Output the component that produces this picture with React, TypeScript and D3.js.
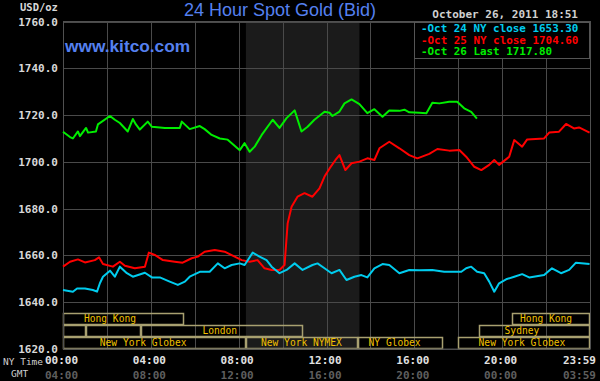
import React, { useEffect, useRef } from "react";
import * as d3 from "d3";

// ---- data (hours of NY time, price USD/oz) ----
const oct24Hours = [0, 0.45, 0.64, 1.0, 1.36, 1.55, 1.68, 1.82, 2.14, 2.36, 2.59, 2.91, 3.18, 3.73, 4.05, 4.41, 4.86, 5.23, 5.55, 5.77, 6.23, 6.68, 7.05, 7.36, 7.68, 8.05, 8.27, 8.64, 8.95, 9.27, 9.5, 9.86, 10.18, 10.55, 10.91, 11.36, 11.59, 11.91, 12.23, 12.59, 12.91, 13.27, 13.59, 13.86, 14.18, 14.55, 14.86, 15.32, 15.77, 16.23, 16.82, 17.36, 17.82, 18.14, 18.36, 18.59, 18.86, 19.18, 19.41, 19.64, 19.86, 20.18, 20.55, 20.91, 21.23, 21.91, 22.27, 22.68, 23.05, 23.36, 23.98];
const oct24Values = [1645.2, 1644.5, 1645.9, 1645.9, 1645.2, 1644.5, 1648.1, 1650.9, 1653.5, 1650.9, 1655.2, 1652.4, 1650.9, 1652.6, 1650.6, 1650.6, 1648.8, 1647.4, 1648.8, 1650.9, 1653.0, 1653.0, 1656.6, 1654.5, 1655.9, 1656.6, 1655.9, 1661.2, 1659.5, 1658.0, 1655.2, 1652.4, 1653.8, 1656.6, 1653.8, 1655.9, 1656.6, 1654.5, 1652.4, 1653.8, 1649.5, 1650.9, 1651.6, 1650.6, 1654.5, 1656.3, 1655.9, 1652.4, 1653.8, 1653.7, 1653.8, 1653.0, 1653.0, 1653.0, 1654.5, 1655.2, 1653.0, 1652.4, 1648.8, 1644.5, 1648.1, 1649.8, 1650.9, 1652.0, 1650.6, 1651.6, 1654.5, 1652.4, 1653.8, 1656.9, 1656.3];

const oct25Hours = [0, 0.32, 0.68, 1.0, 1.45, 1.64, 1.82, 2.27, 2.59, 2.82, 3.27, 3.73, 3.91, 4.18, 4.55, 5.09, 5.45, 5.86, 6.14, 6.45, 6.91, 7.36, 7.82, 8.14, 8.5, 8.86, 9.18, 9.5, 9.86, 10.09, 10.23, 10.41, 10.68, 11.0, 11.36, 11.68, 11.91, 12.14, 12.41, 12.59, 12.86, 13.14, 13.5, 13.86, 14.18, 14.41, 14.86, 15.32, 15.77, 16.14, 16.68, 17.05, 17.59, 18.05, 18.36, 18.73, 19.05, 19.41, 19.64, 19.86, 20.23, 20.32, 20.55, 20.91, 21.14, 21.91, 22.14, 22.59, 22.91, 23.27, 23.5, 23.98];
const oct25Values = [1655.2, 1657.3, 1658.3, 1657.0, 1658.0, 1659.2, 1656.3, 1655.2, 1657.3, 1655.6, 1654.5, 1655.2, 1661.2, 1660.2, 1658.0, 1657.3, 1656.9, 1658.8, 1659.5, 1661.6, 1662.3, 1661.6, 1659.5, 1658.0, 1657.3, 1658.0, 1654.5, 1653.8, 1653.8, 1655.9, 1673.7, 1680.8, 1685.1, 1686.6, 1685.1, 1688.7, 1693.7, 1697.2, 1700.8, 1702.9, 1696.5, 1699.4, 1700.1, 1701.5, 1700.8, 1705.8, 1708.6, 1705.8, 1702.9, 1701.5, 1703.4, 1705.5, 1704.8, 1705.1, 1702.2, 1697.9, 1696.5, 1698.7, 1700.8, 1698.7, 1701.5, 1702.2, 1709.3, 1706.5, 1709.6, 1710.0, 1712.5, 1712.9, 1716.2, 1714.3, 1714.7, 1712.5];

const oct26Hours = [0, 0.32, 0.45, 0.68, 0.77, 1.05, 1.14, 1.5, 1.59, 2.14, 2.36, 2.59, 2.95, 3.18, 3.32, 3.5, 3.86, 4.05, 4.64, 5.32, 5.41, 5.77, 6.23, 6.45, 6.77, 7.14, 7.5, 8.05, 8.27, 8.5, 8.73, 9.05, 9.55, 9.86, 10.18, 10.55, 10.86, 11.14, 11.45, 11.91, 12.14, 12.27, 12.59, 12.82, 13.14, 13.5, 13.86, 14.18, 14.55, 14.86, 15.32, 15.55, 15.77, 16.23, 16.55, 16.82, 17.14, 17.59, 17.95, 18.27, 18.59, 18.85];
const oct26Values = [1712.9, 1710.6, 1710.0, 1713.0, 1711.0, 1714.5, 1712.5, 1713.0, 1716.0, 1719.6, 1718.0, 1716.6, 1713.0, 1718.3, 1716.0, 1713.8, 1717.2, 1715.0, 1714.5, 1714.5, 1717.2, 1714.0, 1715.3, 1714.0, 1711.5, 1710.0, 1709.5, 1705.0, 1708.0, 1704.3, 1706.5, 1711.5, 1718.0, 1714.5, 1718.7, 1722.0, 1713.0, 1715.0, 1718.0, 1721.4, 1721.0, 1719.6, 1721.5, 1725.0, 1726.7, 1724.7, 1720.8, 1722.5, 1719.3, 1722.0, 1721.8, 1722.3, 1721.2, 1721.0, 1720.8, 1725.3, 1725.0, 1725.7, 1725.7, 1722.9, 1721.4, 1718.5];

const yTicks = [1620, 1640, 1660, 1680, 1700, 1720, 1740, 1760];
const nyTimeLabels = ["00:00", "04:00", "08:00", "12:00", "16:00", "20:00", "23:59"];
const gmtTimeLabels = ["04:00", "08:00", "12:00", "16:00", "20:00", "00:00", "03:59"];
const timeLabelHours = [0, 4, 8, 12, 16, 20, 24];

const legendNames = ["Oct 24 NY close 1653.30", "Oct 25 NY close 1704.60", "Oct 26 Last 1717.80"];
const seriesColors = ["#00ccee", "#ff0000", "#00ee00"];

// sessions: row, start hour, end hour, label, label center hour
const sessionRows = [0, 0, 1, 1, 1, 1, 2, 2, 2, 2];
const sessionStart = [0, 20.45, 0, 1.03, 3.55, 18.95, 0, 8.33, 13.45, 18.0];
const sessionEnd = [5.5, 24, 1.03, 3.55, 10.95, 24, 8.33, 13.45, 17.3, 24];
const sessionLabels = ["Hong Kong", "Hong Kong", "", "", "London", "Sydney", "New York Globex", "New York NYMEX", "NY Globex", "New York Globex"];
const sessionLabelAt = [2.14, 22.0, 0, 0, 7.14, 20.9, 3.65, 10.86, 15.1, 20.9];

const pitStart = 8.33;
const pitEnd = 13.5;

const W = 600, H = 381;
const L = 63, R = 590, T = 21.5, B = 349;
const MONO = "'DejaVu Sans Mono', monospace";
const SANS = "'Liberation Sans', Arial, sans-serif";

export default function App() {
  const ref = useRef<SVGSVGElement>(null);

  useEffect(() => {
    const svg = d3.select(ref.current);
    svg.selectAll("*").remove();

    const x = d3.scaleLinear().domain([0, 24]).range([L, R]);
    const y = d3.scaleLinear().domain([1620, 1760]).range([B, T]);

    svg.append("rect").attr("width", W).attr("height", H).attr("fill", "#000");

    // shaded pit session
    svg.append("rect")
      .attr("x", x(pitStart)).attr("y", T)
      .attr("width", x(pitEnd) - x(pitStart)).attr("height", B - T)
      .attr("fill", "#1b1b1b");

    const grid = svg.append("g").attr("stroke", "#4a4a4a").attr("stroke-width", 1);
    d3.range(0, 25, 2).forEach((h) => {
      grid.append("line").attr("x1", Math.round(x(h)) + 0.5).attr("x2", Math.round(x(h)) + 0.5)
        .attr("y1", T).attr("y2", B);
    });
    yTicks.forEach((v) => {
      grid.append("line").attr("x1", L).attr("x2", R)
        .attr("y1", Math.round(y(v)) + 0.5).attr("y2", Math.round(y(v)) + 0.5);
    });

    // y labels
    svg.append("g").selectAll("text").data(yTicks).join("text")
      .attr("x", 58).attr("y", (d) => y(d) + 4)
      .attr("text-anchor", "end")
      .attr("font-family", MONO).attr("font-size", 11).attr("font-weight", "bold")
      .attr("fill", "#d8d8d8")
      .text((d) => d.toFixed(1));

    svg.append("text").attr("x", 20).attr("y", 11)
      .attr("font-family", MONO).attr("font-size", 10.5).attr("font-weight", "bold")
      .attr("fill", "#d8d8d8").text("USD/oz");

    // x labels
    const xl = svg.append("g");
    timeLabelHours.forEach((h, i) => {
      const last = i === timeLabelHours.length - 1;
      const px = last ? 596 : x(h) - 1.5;
      const anchor = last ? "end" : "middle";
      xl.append("text").attr("x", px).attr("y", 364)
        .attr("text-anchor", anchor)
        .attr("font-family", MONO).attr("font-size", 11).attr("font-weight", "bold")
        .attr("fill", "#e0e0e0").text(nyTimeLabels[i]);
      xl.append("text").attr("x", px).attr("y", 379)
        .attr("text-anchor", anchor)
        .attr("font-family", MONO).attr("font-size", 11).attr("font-weight", "bold")
        .attr("fill", "#5e5e5e").text(gmtTimeLabels[i]);
    });
    svg.append("text").attr("x", 3).attr("y", 365)
      .attr("font-family", MONO).attr("font-size", 9.5)
      .attr("fill", "#cfcfcf").text("NY Time");
    svg.append("text").attr("x", 11).attr("y", 377)
      .attr("font-family", MONO).attr("font-size", 9.5)
      .attr("fill", "#cfcfcf").text("GMT");

    // sessions
    const rowTop = (r: number) => 312.5 + r * 12.2;
    const sg = svg.append("g");
    sessionRows.forEach((r, i) => {
      const x0 = x(sessionStart[i]);
      const x1 = x(sessionEnd[i]);
      sg.append("rect")
        .attr("x", Math.round(x0) + 0.5).attr("y", Math.round(rowTop(r)) + 0.5)
        .attr("width", Math.round(x1) - Math.round(x0) - 1).attr("height", 11)
        .attr("fill", "none").attr("stroke", "#a8a070").attr("stroke-width", 1.5);
      if (sessionLabels[i]) {
        sg.append("text").attr("x", x(sessionLabelAt[i])).attr("y", rowTop(r) + 9.5)
          .attr("text-anchor", "middle")
          .attr("font-family", MONO).attr("font-size", 9.6)
          .attr("fill", "#f0c000").text(sessionLabels[i]);
      }
    });

    // plot border
    svg.append("rect").attr("x", L + 0.5).attr("y", T).attr("width", R - L).attr("height", B - T)
      .attr("fill", "none").attr("stroke", "#505050");

    // lines
    const series = [
      { h: oct24Hours, v: oct24Values, c: seriesColors[0] },
      { h: oct25Hours, v: oct25Values, c: seriesColors[1] },
      { h: oct26Hours, v: oct26Values, c: seriesColors[2] },
    ];
    const line = d3.line<[number, number]>().x((d) => x(d[0])).y((d) => y(d[1]));
    [2, 1, 0].forEach((k) => {
      const s = series[k];
      const pts: [number, number][] = s.h.map((h, i) => [h, s.v[i]]);
      svg.append("path").attr("d", line(pts) as string)
        .attr("fill", "none").attr("stroke", s.c).attr("stroke-width", 2)
        .attr("stroke-linejoin", "round");
    });

    // legend
    const lg = svg.append("g");
    lg.append("rect").attr("x", 414.5).attr("y", 22.5).attr("width", 175).attr("height", 36)
      .attr("fill", "#000").attr("stroke", "#555");
    legendNames.forEach((n, i) => {
      lg.append("text").attr("x", 421).attr("y", 32 + i * 11.7)
        .attr("font-family", MONO).attr("font-size", 10.9).attr("font-weight", "bold")
        .attr("fill", seriesColors[i]).text("-" + n);
    });

    svg.append("text").attr("x", 578).attr("y", 18).attr("text-anchor", "end")
      .attr("font-family", MONO).attr("font-size", 11).attr("font-weight", "bold")
      .attr("fill", "#d0d0d0").text("October 26, 2011 18:51");

    svg.append("text").attr("x", 280).attr("y", 16).attr("text-anchor", "middle")
      .attr("font-family", SANS).attr("font-size", 18)
      .attr("fill", "#5580f0").text("24 Hour Spot Gold (Bid)");

    svg.append("text").attr("x", 65).attr("y", 52)
      .attr("font-family", SANS).attr("font-size", 17.3).attr("font-weight", "bold")
      .attr("fill", "#5580f0").text("www.kitco.com");
  }, []);

  return (
    <svg ref={ref} width={W} height={H}
      style={{ position: "absolute", left: 0, top: 0, display: "block" }} />
  );
}
